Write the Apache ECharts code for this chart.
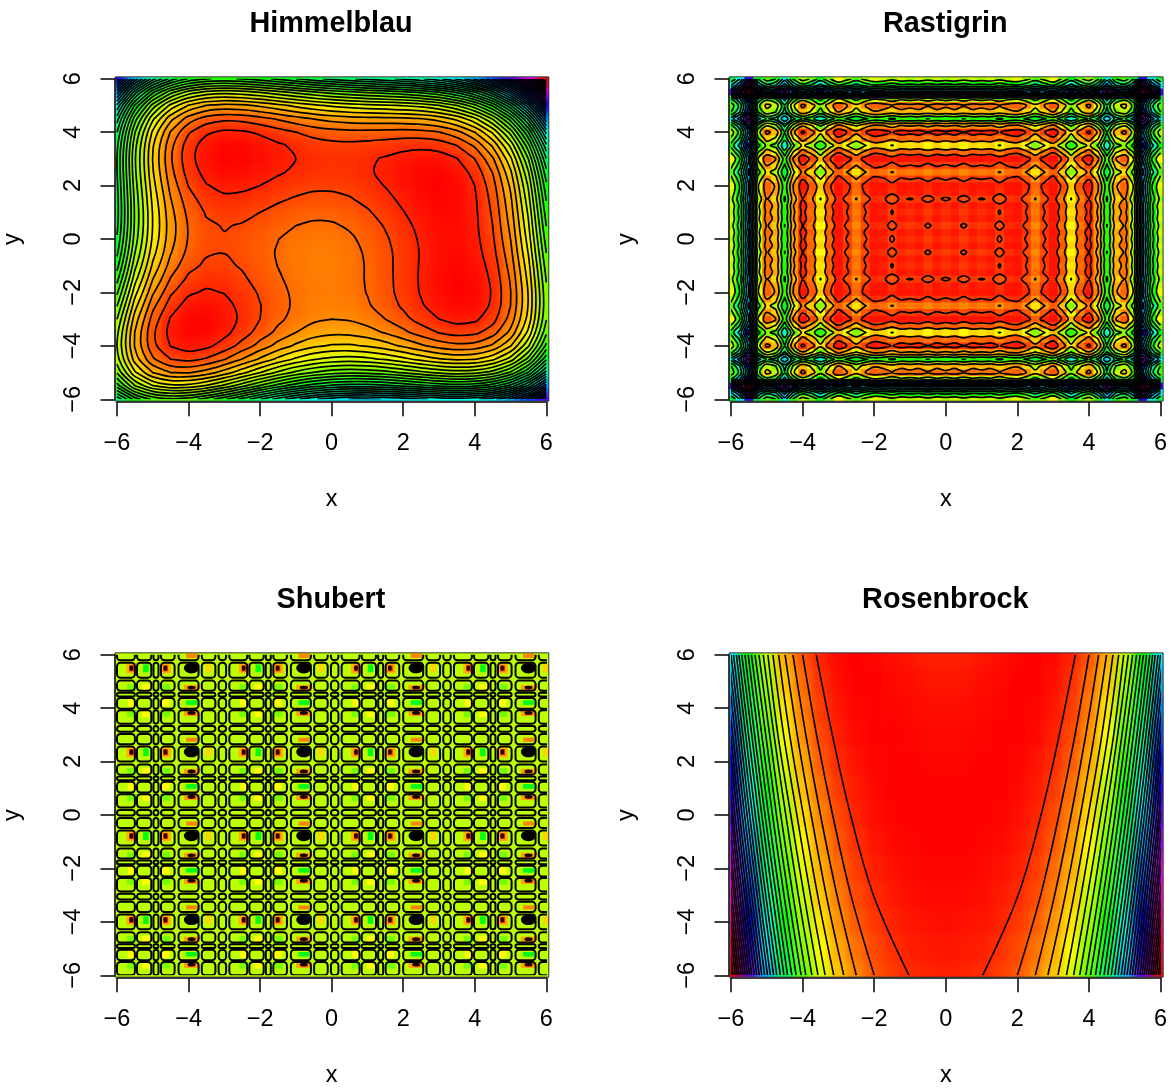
<!DOCTYPE html>
<html><head><meta charset="utf-8">
<script src="https://cdn.jsdelivr.net/npm/echarts@6/dist/echarts.min.js"></script>
<style>html,body{margin:0;padding:0;background:#fff}#c{width:1173px;height:1090px}</style>
</head><body><div id="c"></div>
<script>
const tickLabels=[-6,-4,-2,0,2,4,6];
const panelTitles=['Himmelblau','Rastigrin','Shubert','Rosenbrock'];
// Himmelblau: surface values, rows y=6..-6, columns x=-6..6, step .5
const himmelblauRows=[
[1490,1190,976,833,746,703,692,704,730,764,800,835,866,893,916,938,962,994,1040,1109,1210,1355,1556,1828,2186],
[1228,928,713,570,481,436,422,432,454,484,515,546,571,592,608,624,640,664,701,762,853,988,1178,1440,1786],
[1044,744,530,385,296,249,234,240,260,286,314,339,360,375,386,394,404,420,450,501,584,709,890,1140,1476],
[923,624,410,266,176,128,111,116,133,156,180,202,218,228,233,236,239,248,270,314,388,504,675,916,1241],
[850,553,340,196,106,58,40,43,58,79,100,118,130,136,136,133,130,134,148,184,250,358,520,751,1066],
[813,518,306,164,74,26,7,10,23,42,60,76,84,86,81,74,65,62,70,100,158,258,411,634,939],
[800,507,298,156,68,20,2,3,16,33,50,62,68,66,58,45,32,23,26,48,100,192,338,551,848],
[802,512,305,166,79,32,14,16,28,44,59,70,73,68,56,40,22,8,5,22,67,152,290,496,784],
[810,524,320,183,98,53,36,38,50,66,80,89,90,83,68,48,26,8,0,11,50,129,260,458,738],
[818,536,335,202,119,76,60,64,76,92,105,114,113,104,86,64,38,16,3,10,43,116,240,432,704],
[820,542,346,215,136,95,82,86,100,116,130,137,136,125,106,80,52,26,10,11,40,107,226,410,676],
[813,540,348,222,146,108,97,104,119,136,150,158,156,144,123,96,65,36,16,14,38,100,213,392,651],
[794,527,340,218,146,112,104,113,130,149,164,172,170,158,136,107,74,43,20,14,34,92,200,373,626],
[763,502,320,204,136,106,101,114,133,154,170,180,178,166,143,114,79,46,20,12,28,82,185,354,601],
[720,465,290,178,116,90,90,105,128,151,170,180,180,168,146,115,80,45,18,6,20,70,170,333,576],
[668,420,251,146,89,68,72,92,118,144,165,178,179,168,146,116,80,44,15,2,13,60,156,316,554],
[610,370,208,109,58,43,52,76,106,136,160,175,178,169,148,118,82,46,16,1,10,55,148,304,538],
[552,320,165,74,29,20,34,64,98,132,159,178,183,176,156,128,92,56,25,10,17,60,150,304,534],
[500,276,130,45,8,5,26,60,100,138,170,191,200,195,178,150,116,80,50,33,40,81,170,320,548],
[463,248,110,34,4,8,35,76,121,164,200,226,238,236,221,196,163,128,98,82,88,128,215,364,589],
[450,245,116,48,26,38,72,119,170,219,260,290,306,308,296,273,242,209,180,164,170,210,296,443,666],
[473,278,158,100,86,106,147,202,259,314,360,396,416,422,413,394,365,334,306,292,298,338,423,570,791],
[544,359,250,200,196,224,274,335,400,461,514,554,580,590,586,569,544,515,490,476,484,524,610,755,976],
[678,504,405,366,371,408,466,536,608,676,735,782,813,828,828,816,794,768,745,730,743,784,870,1016,1236],
[890,728,640,611,626,673,740,818,898,974,1040,1093,1130,1151,1156,1148,1129,1108,1088,1079,1090,1133,1220,1366,1586]];
const himmelblauHueScale=6.07;
// Rastigrin: one quadrant of the symmetric surface, rows |y|=0..6, columns |x|=0..6, step .25
const ra19=[38,34,40,34,37,34,42,34,31,42,57,42,29,51,77,53,37,64,119,69,56,89,209,129,89];
const ra15=[34,30,36,30,33,30,38,30,27,38,53,38,25,47,73,49,33,60,115,65,52,85,205,125,85];
const ra21=[40,36,42,36,39,36,44,36,33,44,59,44,31,53,79,55,39,66,121,71,58,91,211,131,91];
const ra18=[37,33,39,33,36,33,41,33,30,41,56,41,28,50,76,52,36,63,118,68,55,88,208,128,88];
const ra23=[42,38,44,38,41,38,46,38,35,46,61,46,33,55,81,57,41,68,123,73,60,93,213,133,93];
const ra12=[31,27,33,27,30,27,35,27,24,35,50,35,22,44,70,46,30,57,112,62,49,82,202,122,82];
const ra38=[57,53,59,53,56,53,61,53,50,61,76,61,48,70,96,72,56,83,138,88,75,108,228,148,108];
const ra10=[29,25,31,25,28,25,33,25,22,33,48,33,20,42,68,44,28,55,110,60,47,80,200,120,80];
const ra32=[51,47,53,47,50,47,55,47,44,55,70,55,42,64,90,66,50,77,132,82,69,102,222,142,102];
const ra58=[77,73,79,73,76,73,81,73,70,81,96,81,68,90,116,92,76,103,158,108,95,128,248,168,128];
const ra34=[53,49,55,49,52,49,57,49,46,57,72,57,44,66,92,68,52,79,134,84,71,104,224,144,104];
const ra45=[64,60,66,60,63,60,68,60,57,68,83,68,55,77,103,79,63,90,145,95,82,115,235,155,115];
const ra100=[119,115,121,115,118,115,123,115,112,123,138,123,110,132,158,134,118,145,200,150,137,170,290,210,170];
const ra50=[69,65,71,65,68,65,73,65,62,73,88,73,60,82,108,84,68,95,150,100,87,120,240,160,120];
const ra37=[56,52,58,52,55,52,60,52,49,60,75,60,47,69,95,71,55,82,137,87,74,107,227,147,107];
const ra70=[89,85,91,85,88,85,93,85,82,93,108,93,80,102,128,104,88,115,170,120,107,140,260,180,140];
const ra190=[209,205,211,205,208,205,213,205,202,213,228,213,200,222,248,224,208,235,290,240,227,260,380,300,260];
const ra110=[129,125,131,125,128,125,133,125,122,133,148,133,120,142,168,144,128,155,210,160,147,180,300,220,180];
const rastigrinQuadrant=[ra19,ra15,ra21,ra15,ra18,ra15,ra23,ra15,ra12,ra23,ra38,ra23,ra10,ra32,ra58,ra34,ra18,ra45,ra100,ra50,ra37,ra70,ra190,ra110,ra70];
const rastigrinValueStops=[0,30,46,57,77,89,116,138,158,205,228,248,290,380];
const rastigrinHueStops=[0,5,20,30,55,80,110,130,165,190,200,240,285,340];
// Rosenbrock: hue read along rows y=6..-6 (step 1), columns |x|=0..6 (step .5)
const rosenbrockHue=[
[7,7,5,3,1,0,2,8,20,41,74,120,184],
[5,5,3,2,0,0,3,11,25,47,82,130,196],
[3,3,2,1,0,1,5,14,29,54,90,141,209],
[2,2,1,0,0,2,7,17,34,61,99,152,222],
[1,1,0,0,1,4,10,21,40,68,108,163,236],
[0,0,0,0,2,6,13,26,46,76,118,175,250],
[0,0,0,1,3,8,17,31,52,84,128,187,264],
[0,0,1,2,5,11,20,36,59,92,138,199,279],
[1,1,2,4,7,14,25,41,66,101,149,212,295],
[2,2,3,6,10,17,29,47,74,110,160,226,310],
[3,4,5,8,13,21,34,54,82,120,172,239,327],
[5,6,7,11,17,26,40,61,90,130,184,254,343],
[7,8,10,14,20,31,46,68,99,141,196,268,360]];
// Rosenbrock contours: |x| crossing at y=6,3,0,-3,-6
const rosenbrockContourYs=[6,3,0,-3,-6];
const rosenbrockContourX=[
[3.62,3.17,2.66,2.02,1.03],[4,3.61,3.16,2.65,2],[4.27,3.91,3.5,3.04,2.5],[4.49,4.15,3.76,3.34,2.85],
[4.67,4.36,3.98,3.58,3.13],[4.83,4.53,4.16,3.78,3.37],[4.97,4.69,4.33,3.96,3.57],[5.1,4.8,4.47,4.12,3.74],
[5.22,4.92,4.61,4.27,3.91],[5.33,5.03,4.73,4.4,4.04],[5.43,5.14,4.84,4.52,4.18],[5.52,5.24,4.95,4.64,4.3],
[5.61,5.34,5.05,4.74,4.42],[5.7,5.42,5.14,4.84,4.52],[5.78,5.51,5.23,4.94,4.62],[5.85,5.59,5.32,5.03,4.72],
[5.93,5.67,5.4,5.11,4.81],[6,5.74,5.48,5.2,4.9],[6.07,5.81,5.55,5.27,4.98],[6.13,5.88,5.62,5.35,5.06],
[6.2,5.95,5.69,5.42,5.14],[6.26,6.01,5.76,5.49,5.21],[6.32,6.07,5.82,5.56,5.28],[6.37,6.13,5.89,5.62,5.35],
[6.43,6.19,5.95,5.69,5.42],[6.49,6.25,6,5.75,5.48],[6.54,6.3,6.06,5.81,5.54],[6.59,6.36,6.12,5.87,5.6],
[6.64,6.41,6.17,5.92,5.66],[6.69,6.46,6.22,5.98,5.72],[6.74,6.51,6.27,6.03,5.78],[6.78,6.56,6.32,6.08,5.83],
[6.83,6.6,6.37,6.13,5.88],[6.87,6.65,6.42,6.18,5.94],[6.91,6.69,6.47,6.23,5.98]];
// Shubert: spans between the dense contour lines (same on both axes)
const shubertSpans=[
[-6,-5.5],[-5.44,-5.04],[-4.98,-4.84],[-4.77,-4.39],[-4.28,-3.72],[-3.63,-3.25],[-3.16,-2.95],
[-2.86,-2.36],[-2.3,-1.9],[-1.84,-1.7],[-1.63,-1.25],[-1.14,-.58],[-.49,-.11],[-.02,.19],
[.28,.78],[.84,1.24],[1.3,1.44],[1.51,1.89],[2,2.56],[2.65,3.03],[3.12,3.33],
[3.42,3.92],[3.98,4.38],[4.44,4.58],[4.65,5.03],[5.14,5.7],[5.79,6.17]];
const shubertBlobs=[-3.92,-.78,2.36,5.5];
const shubertDots=[-5.6,-4.65,-2.46,-1.51,.68,1.63,3.82,4.77];
const shubertGreen=[-5.2,-2.06,1.08,4.22];
const shubertWarm=[-3.45,-.31,2.83,5.97];
const shubertBaseHue=76;

const FONT='"Liberation Sans",Arial,sans-serif';
const seq=(a,b,s)=>{const r=[];for(let i=0;a+i*s<=b+1e-9;i++)r.push(a+i*s);return r;};
const X5=seq(-6,6,.5),Y5=X5.slice().reverse();
const X25=seq(-6,6,.25),Y25=X25.slice().reverse();

function contours(z,xs,ys,levels){
  const out=[];
  levels.forEach(L=>{
    const P={},A={};
    const pt=(k,x,y)=>{P[k]=[x,y];A[k]=A[k]||[];return k;};
    const link=(a,b)=>{A[a].push(b);A[b].push(a);};
    for(let j=0;j<ys.length-1;j++)for(let i=0;i<xs.length-1;i++){
      const a=z[j][i],b=z[j][i+1],c=z[j+1][i+1],d=z[j+1][i];
      const e={};
      const lerp=(u,v)=>(L-u)/(v-u);
      if((a>=L)!==(b>=L))e.t=pt('h'+j+'_'+i,xs[i]+lerp(a,b)*(xs[i+1]-xs[i]),ys[j]);
      if((b>=L)!==(c>=L))e.r=pt('v'+j+'_'+(i+1),xs[i+1],ys[j]+lerp(b,c)*(ys[j+1]-ys[j]));
      if((d>=L)!==(c>=L))e.b=pt('h'+(j+1)+'_'+i,xs[i]+lerp(d,c)*(xs[i+1]-xs[i]),ys[j+1]);
      if((a>=L)!==(d>=L))e.l=pt('v'+j+'_'+i,xs[i],ys[j]+lerp(a,d)*(ys[j+1]-ys[j]));
      const ks=Object.keys(e);
      if(ks.length===2)link(e[ks[0]],e[ks[1]]);
      else if(ks.length===4){
        const m=(a+b+c+d)/4;
        if((a>=L)!==(m>=L)){link(e.t,e.l);link(e.r,e.b);}
        else{link(e.t,e.r);link(e.b,e.l);}
      }
    }
    const seen={};
    const walk=s=>{
      const path=[s];seen[s]=1;let cur=s,closed=false;
      for(;;){
        const nx=A[cur].find(k=>!seen[k]);
        if(nx===undefined){if(path.length>2&&A[cur].includes(s))closed=true;break;}
        seen[nx]=1;path.push(nx);cur=nx;
      }
      if(path.length>1)out.push({pts:path.map(k=>P[k]),closed});
    };
    Object.keys(A).forEach(k=>{if(A[k].length===1&&!seen[k])walk(k);});
    Object.keys(A).forEach(k=>{if(!seen[k])walk(k);});
  });
  return out;
}
function stepLevels(a,b,s){const r=[];for(let v=a;v<=b;v+=s)r.push(v);return r;}
function hueLookup(v,vs,hs){
  for(let i=1;i<vs.length;i++)if(v<=vs[i]){return hs[i-1]+(v-vs[i-1])/(vs[i]-vs[i-1])*(hs[i]-hs[i-1]);}
  return hs[hs.length-1];
}

// cell items: [x, y, w, h, hue]
const hbCells=[];himmelblauRows.forEach((r,j)=>r.forEach((v,i)=>hbCells.push([X5[i],Y5[j],.5,.5,v/himmelblauHueScale])));
const raZ=Y25.map((_,j)=>X25.map((_,i)=>rastigrinQuadrant[Math.abs(j-24)][Math.abs(i-24)]));
const raCells=[];raZ.forEach((r,j)=>r.forEach((v,i)=>raCells.push([X25[i],Y25[j],.25,.25,hueLookup(v,rastigrinValueStops,rastigrinHueStops)])));
const roCells=[];rosenbrockHue.forEach((r,j)=>{const full=r.slice(1).reverse().concat(r);full.forEach((v,i)=>roCells.push([X5[i],6-j,.5,1,v]));});
const shCells=[[0,0,12.14,12.14,shubertBaseHue]];
const sq=(xs,ys,w,h,hue)=>xs.forEach(x=>ys.forEach(y=>shCells.push([x,y,w,h,hue])));
sq(shubertDots,shubertDots,.25,.26,92);
sq(shubertGreen,shubertDots,.2,.26,60);
sq(shubertDots,shubertGreen,.2,.26,60);
sq(shubertWarm,shubertBlobs,.14,.3,50);
sq(shubertBlobs,shubertWarm,.3,.14,32);
sq(shubertGreen,shubertBlobs,.14,.27,125);
sq(shubertBlobs,shubertGreen,.3,.15,125);
sq(shubertDots,shubertBlobs,.28,.37,42);
sq(shubertBlobs,shubertDots,.42,.2,38);
sq(shubertDots,shubertBlobs,.12,.2,6);
sq(shubertBlobs,shubertDots,.2,.1,6);

const hbLines=contours(himmelblauRows,X5,Y5,stepLevels(50,2150,50));
const raLines=contours(raZ,X25,Y25,stepLevels(40,360,20));
const roLines=[];rosenbrockContourX.forEach(r=>[-1,1].forEach(s=>roLines.push({pts:r.map((x,i)=>[s*x,rosenbrockContourYs[i]]),closed:false})));

function cellSeries(g,items,zlevel,stretch){
  const E=6.07;
  return {type:'custom',xAxisIndex:g,yAxisIndex:g,zlevel,silent:true,animation:false,progressive:0,clip:false,
    data:items,
    renderItem(p,api){
      const x=api.value(0),y=api.value(1),w=api.value(2),h=api.value(3),hue=api.value(4);
      const a=api.coord([x-w/2,y+h/2]),b=api.coord([x+w/2,y-h/2]);
      let x0=a[0],y0=a[1],x1=b[0]+.6,y1=b[1]+.6;
      if(stretch){
        if(x<=-6)x0-=30;if(x>=6)x1+=30;if(y>=6)y0-=30;if(y<=-6)y1+=30;
      }else{
        const lo=api.coord([-E,E]),hi=api.coord([E,-E]);
        x0=Math.max(x0,lo[0]);y0=Math.max(y0,lo[1]);x1=Math.min(x1,hi[0]);y1=Math.min(y1,hi[1]);
      }
      return {type:'rect',shape:{x:x0,y:y0,width:x1-x0,height:y1-y0},style:{fill:'hsl('+hue+',100%,50%)'}};
    }};
}
function lineSeries(g,lines,lw){
  return {type:'custom',xAxisIndex:g,yAxisIndex:g,zlevel:2,silent:true,animation:false,progressive:0,clip:true,
    data:lines.map((_,i)=>[i]),
    renderItem(p,api){
      const l=lines[api.value(0)];
      return {type:l.closed?'polygon':'polyline',shape:{points:l.pts.map(q=>api.coord(q)),smooth:.35},
        style:{fill:'none',stroke:'#000',lineWidth:lw}};
    }};
}
function frameSeries(g){
  return {type:'custom',xAxisIndex:g,yAxisIndex:g,zlevel:2,silent:true,animation:false,clip:false,data:[[0]],
    renderItem(p,api){
      const a=api.coord([-6.05,6.07]),b=api.coord([6.07,-6.07]);
      return {type:'rect',shape:{x:a[0],y:a[1],width:b[0]-a[0],height:b[1]-a[1]},style:{fill:'none',stroke:'#333',lineWidth:1}};
    }};
}
function shubertLoops(g){
  const items=[];shubertSpans.forEach(sx=>shubertSpans.forEach(sy=>items.push([sx[0],sx[1],sy[0],sy[1]])));
  return {type:'custom',xAxisIndex:g,yAxisIndex:g,zlevel:2,silent:true,animation:false,progressive:0,clip:true,data:items,
    renderItem(p,api){
      const a=api.coord([api.value(0),api.value(3)]),b=api.coord([api.value(1),api.value(2)]);
      const w=b[0]-a[0],h=b[1]-a[1];
      return {type:'rect',shape:{x:a[0],y:a[1],width:w,height:h,r:Math.min(3.5,w/2,h/2)},style:{fill:'none',stroke:'#000',lineWidth:2}};
    }};
}
function spotSeries(g,xs,ys,rx,ry){
  const items=[];xs.forEach(x=>ys.forEach(y=>items.push([x,y])));
  return {type:'custom',xAxisIndex:g,yAxisIndex:g,zlevel:2,silent:true,animation:false,clip:true,data:items,
    renderItem(p,api){
      const c=api.coord([api.value(0),api.value(1)]),s=api.size([rx,ry]);
      return {type:'ellipse',shape:{cx:c[0],cy:c[1],rx:s[0],ry:s[1]},style:{fill:'#000'}};
    }};
}

const grids=[],xAxes=[],yAxes=[],titles=[];
panelTitles.forEach((t,k)=>{
  const col=k%2,row=k>>1,left=116.7+614.3*col,top=78.7+576*row;
  grids.push({left,top,width:429.6,height:320.6});
  const lab={fontSize:23.5,color:'#000',fontFamily:FONT,formatter:v=>String(v).replace('-','\u2212')};
  const ax={type:'value',min:-6,max:6,interval:2,gridIndex:k,zlevel:2,splitLine:{show:false},
    axisLine:{show:true,onZero:false,lineStyle:{color:'#000',width:1.5}},
    axisTick:{show:true,length:14.5,lineStyle:{color:'#000',width:1.5}},
    nameLocation:'middle',nameTextStyle:{fontSize:23.5,color:'#000',fontFamily:FONT}};
  xAxes.push(Object.assign({},ax,{position:'bottom',offset:2.4,name:'x',nameGap:86,axisLabel:Object.assign({},lab,{margin:30})}));
  yAxes.push(Object.assign({},ax,{position:'left',offset:2,name:'y',nameGap:90,axisLabel:Object.assign({},lab,{rotate:90,margin:29})}));
  titles.push({text:t,left:left+209.3,top:4.5+576*row,textAlign:'center',zlevel:2,
    textStyle:{fontSize:28.8,fontWeight:'bold',color:'#000',fontFamily:FONT}});
});

const chart=echarts.init(document.getElementById('c'),null,{renderer:'canvas',width:1173,height:1090});
chart.setOption({animation:false,backgroundColor:'transparent',tooltip:{show:false},title:titles,grid:grids,xAxis:xAxes,yAxis:yAxes,
  series:[
    cellSeries(0,hbCells,0,true),
    cellSeries(3,roCells,0,true),
    cellSeries(1,raCells,1,false),
    cellSeries(2,shCells,1,false),
    lineSeries(0,hbLines,1.7),frameSeries(0),
    lineSeries(1,raLines,1.7),frameSeries(1),
    shubertLoops(2),
    spotSeries(2,shubertBlobs,shubertBlobs,.21,.2),
    spotSeries(2,shubertDots,shubertBlobs,.05,.1),
    spotSeries(2,shubertBlobs,shubertDots,.11,.07),
    frameSeries(2),
    lineSeries(3,roLines,1.6),frameSeries(3)
  ]});
function softenBase(){
  const cv=document.querySelector('#c canvas[data-zr-dom-id="zr_0"]');
  if(cv){
    cv.style.filter='blur(5px)';
    cv.style.clipPath="path('M115 77H549V401H115Z M729.3 653H1163.3V977H729.3Z')";
  }
}
softenBase();chart.on('finished',softenBase);
</script></body></html>
